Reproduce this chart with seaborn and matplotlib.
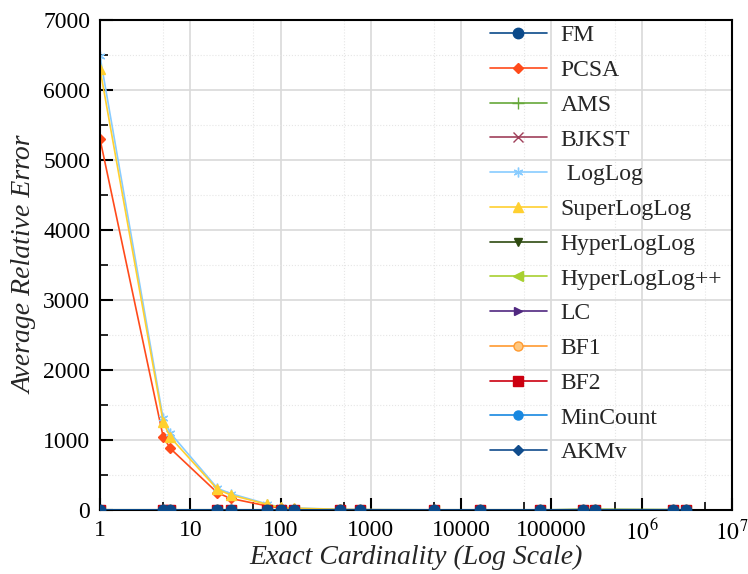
import numpy as np
import pandas as pd
import matplotlib
matplotlib.use('Agg')
import matplotlib.pyplot as plt
import matplotlib.ticker as mticker
import seaborn as sns

# Cardinalidades exatas (eixo x)
cardinality = [1, 5, 6, 20, 28, 70, 100, 142, 455, 760, 5000, 16000, 75000,
               225000, 303000, 2200000, 3100000]

# Erro relativo medio por estimador
fm = [2, 2, 2, 1, 1, 1, 1, 1, 0.5, 0.5, 0.3, 0.3, 0.2, 0.2, 0.2, 0.1, 0.1]
pcsa = [5300, 1050, 880, 245, 165, 60, 28, 18, 5, 3, 1, 0.6, 0.4, 0.3, 0.3, 0.2, 0.2]
ams = [3, 3, 3, 3, 3, 3, 3, 3, 3, 3, 3, 3, 3, 6, 6, 4, 3]
bjkst = [1, 1, 1, 1, 1, 1, 1, 1, 1, 1, 1, 1, 1, 1, 1, 1, 1]
loglog = [6480, 1310, 1100, 310, 235, 88, 40, 30, 9, 6, 2, 1, 0.6, 0.4, 0.4, 0.3, 0.3]
superloglog = [6300, 1260, 1040, 295, 215, 82, 36, 26, 8, 5, 2, 1, 0.6, 0.4, 0.4, 0.3, 0.3]
hyperloglog = [1, 1, 1, 1, 1, 1, 1, 1, 1, 1, 1, 1, 1, 5, 5, 3, 1]
hyperloglogpp = [1, 1, 1, 1, 1, 1, 1, 1, 1, 1, 1, 1, 1, 6, 6, 4, 1]
lc = [0.5, 0.5, 0.5, 0.5, 0.5, 0.5, 0.5, 0.5, 0.5, 0.5, 0.5, 0.5, 0.5, 0.5, 0.5, 0.5, 0.5]
bf1 = [0.5, 0.5, 0.5, 0.5, 0.5, 0.5, 0.5, 0.5, 0.5, 0.5, 0.5, 0.5, 0.5, 0.5, 0.5, 0.5, 0.5]
bf2 = [0, 0, 0, 0, 0, 0, 0, 0, 0, 0, 0, 0, 0, 0, 0, 0, 0]
mincount = [0, 0, 0, 0, 0, 0, 0, 0, 0, 0, 0, 0, 0, 0, 0, 0, 0]
akmv = [0, 0, 0, 0, 0, 0, 0, 0, 0, 0, 0, 0, 0, 0, 0, 0, 0]

labels = ['FM', 'PCSA', 'AMS', 'BJKST', ' LogLog', 'SuperLogLog', 'HyperLogLog',
          'HyperLogLog++', 'LC', 'BF1', 'BF2', 'MinCount', 'AKMv']
series = [fm, pcsa, ams, bjkst, loglog, superloglog, hyperloglog,
          hyperloglogpp, lc, bf1, bf2, mincount, akmv]
colors = ['#0b4a8a', '#ff4a1a', '#66a83a', '#a0405a', '#88ccff', '#ffd030',
          '#2e4a10', '#a8d030', '#502880', '#ff9a30', '#cc0010', '#1888e0', '#104c8c']
markers = ['o', 'D', '+', 'x', (6, 2, 0), '^', 'v', '<', '>', 'o', 's', 'o', 'D']
msizes = [7.5, 5, 8, 7, 7, 7, 6, 6.5, 6, 6.5, 7.5, 6.5, 5]

sns.set_theme(style='ticks')
plt.rcParams['font.family'] = ['Liberation Serif', 'DejaVu Serif']
plt.rcParams['mathtext.fontset'] = 'stix'

fig = plt.figure(figsize=(7.48, 5.74), dpi=100)
ax = fig.add_axes([100 / 748, 64 / 574, 632 / 748, 490 / 574])

for i, (lab, vals, col, mk, ms) in enumerate(zip(labels, series, colors, markers, msizes)):
    df = pd.DataFrame({'x': cardinality, 'y': vals})
    face = '#ffc880' if lab == 'BF1' else col
    z = 5 if lab == 'FM' else 2 + i * 0.01
    sns.lineplot(data=df, x='x', y='y', ax=ax, color=col, marker=mk, markersize=ms,
                 markerfacecolor=face, markeredgecolor=col, markeredgewidth=1.0,
                 linewidth=1.2, label=lab, zorder=z)

ax.set_xscale('log')
ax.set_xlim(1, 1e7)
ax.set_ylim(0, 7000)

ax.xaxis.set_major_locator(mticker.FixedLocator([1, 10, 100, 1000, 1e4, 1e5, 1e6, 1e7]))
ax.xaxis.set_major_formatter(mticker.FixedFormatter(
    ['1', '10', '100', '1000', '10000', '100000', '$10^6$', '$10^7$']))
ax.xaxis.set_minor_locator(mticker.FixedLocator([5, 50, 500, 5000, 5e4, 5e5, 5e6]))
ax.xaxis.set_minor_formatter(mticker.NullFormatter())
ax.yaxis.set_major_locator(mticker.MultipleLocator(1000))
ax.yaxis.set_minor_locator(mticker.MultipleLocator(500))

ax.grid(which='major', color='#d9d9d9', linewidth=1.2)
ax.grid(which='minor', color='#e6e6e6', linewidth=0.8, linestyle=':')
ax.set_axisbelow(True)

ax.tick_params(which='both', direction='in', colors='black', labelsize=17)
ax.tick_params(which='major', length=9, width=1.5, pad=7)
ax.tick_params(which='minor', length=6, width=1.2)
for sp in ax.spines.values():
    sp.set_linewidth(1.5)
    sp.set_color('black')

ax.set_xlabel('Exact Cardinality (Log Scale)', fontsize=20, style='italic', labelpad=0)
ax.set_ylabel('Average Relative Error', fontsize=20, style='italic', labelpad=4)

ax.legend(loc='upper left', bbox_to_anchor=(0.617, 0.99), frameon=False,
          fontsize=17, handlelength=2.4, handletextpad=0.6, labelspacing=0.56,
          borderpad=0, borderaxespad=0)

plt.savefig('out.png', dpi=100)
